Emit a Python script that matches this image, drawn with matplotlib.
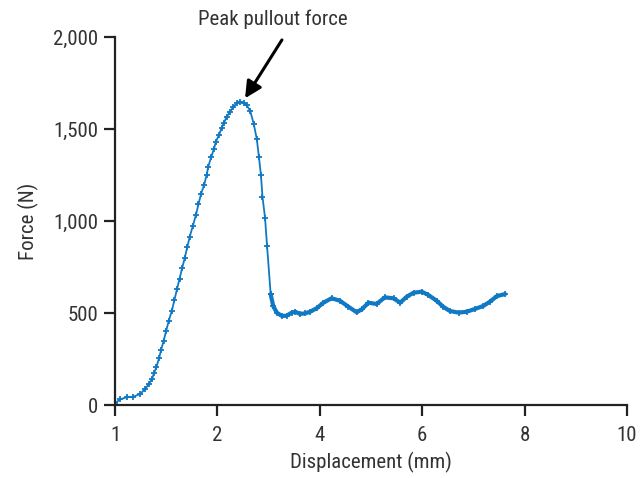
import matplotlib
matplotlib.use("Agg")
import matplotlib.pyplot as plt

plt.rcParams['font.family'] = ['Liberation Sans Narrow', 'Roboto Condensed', 'DejaVu Sans']

# Displacement (axis units) and force (N)
disp = [0.00, 0.10, 0.23, 0.36, 0.49, 0.59, 0.66, 0.72, 0.76, 0.81, 0.86, 0.90, 0.95,
        1.00, 1.05, 1.11, 1.16, 1.21, 1.26, 1.31, 1.36, 1.41, 1.46, 1.52, 1.58, 1.63,
        1.68, 1.74, 1.79, 1.82, 1.88, 1.93, 1.97, 2.03, 2.08, 2.13, 2.18, 2.25, 2.31,
        2.38, 2.44, 2.51, 2.57, 2.64, 2.71, 2.77, 2.81, 2.85, 2.88, 2.93, 2.97, 3.04,
        3.09, 3.16, 3.26, 3.35, 3.45, 3.52, 3.61, 3.71, 3.81, 3.94, 4.07, 4.23, 4.39,
        4.56, 4.72, 4.82, 4.95, 5.11, 5.27, 5.44, 5.57, 5.70, 5.83, 5.99, 6.12, 6.28,
        6.41, 6.54, 6.71, 6.87, 7.03, 7.19, 7.32, 7.46, 7.62]
force = [9, 31, 42, 45, 60, 87, 114, 140, 172, 208, 254, 299, 349,
         404, 458, 512, 571, 629, 686, 743, 797, 857, 915, 973, 1033, 1091,
         1147, 1196, 1250, 1295, 1349, 1390, 1431, 1467, 1504, 1534, 1567, 1594, 1621,
         1640, 1648, 1643, 1630, 1599, 1527, 1444, 1349, 1250, 1132, 1018, 864, 602,
         538, 502, 484, 485, 502, 507, 495, 498, 507, 526, 556, 580, 567,
         534, 504, 520, 556, 549, 585, 580, 556, 589, 610, 616, 598, 567,
         534, 511, 502, 507, 522, 538, 561, 592, 603]

xticks = [0, 2, 4, 6, 8, 10]
xticklabels = ['1', '2', '4', '6', '8', '10']
yticks = [0, 500, 1000, 1500, 2000]
yticklabels = ['0', '500', '1,000', '1,500', '2,000']

annot_text = 'Peak pullout force'
peak_xy = (2.54, 1667)
annot_tail = (3.26, 1984)
text_xy = (3.09, 2095)

color = '#1179c4'

fig = plt.figure(figsize=(6.44, 4.78), dpi=100)
ax = fig.add_axes([0.1786, 0.1527, 0.7950, 0.7699])

# plateau drawn thicker (dense markers in the original)
split = 52
ax.plot(disp[split - 1:], force[split - 1:], color=color, lw=3.0, solid_capstyle='round',
        marker='+', ms=4, mew=1.2)
ax.plot(disp[:split], force[:split], color=color, lw=1.3, marker='+', ms=4.5, mew=1.3)

ax.set_xlim(0, 10)
ax.set_ylim(0, 2000)
ax.set_xticks(xticks)
ax.set_xticklabels(xticklabels)
ax.set_yticks(yticks)
ax.set_yticklabels(yticklabels)

for s in ['top', 'right']:
    ax.spines[s].set_visible(False)
for s in ['left', 'bottom']:
    ax.spines[s].set_linewidth(1.6)
    ax.spines[s].set_color('#222222')

ax.tick_params(axis='both', direction='out', length=8, width=1.6, color='#222222',
               labelsize=15, labelcolor='#333333', pad=4)
ax.tick_params(axis='x', pad=7)

ax.set_xlabel('Displacement (mm)', fontsize=15, color='#333333', labelpad=5)
ax.set_ylabel('Force (N)', fontsize=15, color='#333333', labelpad=10)

ax.annotate('', xy=peak_xy, xytext=annot_tail, annotation_clip=False,
            arrowprops=dict(arrowstyle='-|>,head_length=1.0,head_width=0.5',
                            color='black', lw=2.2, shrinkA=0, shrinkB=0))
ax.text(text_xy[0], text_xy[1], annot_text, ha='center', va='center', fontsize=15,
        color='#333333', clip_on=False)

fig.savefig('out.png', dpi=100)
